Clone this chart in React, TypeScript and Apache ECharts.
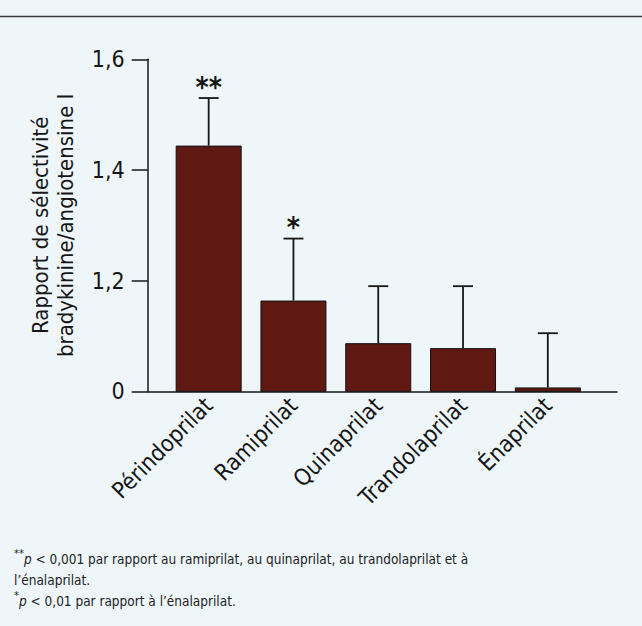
import React, { useEffect, useRef } from 'react';
import * as echarts from 'echarts';

const categories = ['Périndoprilat', 'Ramiprilat', 'Quinaprilat', 'Trandolaprilat', 'Énaprilat'];
const ratios = [1.444, 1.164, 1.087, 1.078, 1.007];
const errorTops = [1.53, 1.276, 1.19, 1.19, 1.105];
const significance = ['**', '*', '', '', ''];
const yTickValues = [1.0, 1.2, 1.4, 1.6];
const yTickLabels = ['0', '1,2', '1,4', '1,6'];
const yAxisTitle = ['Rapport de sélectivité', 'bradykinine/angiotensine I'];
const footnoteLines = [
  '{s|**}{i|p} < 0,001 par rapport au ramiprilat, au quinaprilat, au trandolaprilat et à',
  'l’énalaprilat.',
  '{s|*}{i|p} < 0,01 par rapport à l’énalaprilat.',
];

const FONT = '"Liberation Sans Narrow", "DejaVu Sans Condensed", "Roboto Condensed", Roboto, Arial, sans-serif';
const INK = '#161616';

export default function App() {
  const ref = useRef<HTMLDivElement>(null);
  useEffect(() => {
    if (!ref.current) return;
    const chart = echarts.init(ref.current, undefined, { renderer: 'svg' });
    const option: any = {
      animation: false,
      backgroundColor: '#EEF6FA',
      grid: { left: 147.7, right: 25, top: 59.3, bottom: 234.7, containLabel: false },
      xAxis: {
        type: 'value',
        min: 0.281,
        max: 5.816,
        minInterval: 1,
        maxInterval: 1,
        splitLine: { show: false },
        axisTick: { show: false },
        axisLine: { show: true, lineStyle: { color: INK, width: 1.5 } },
        axisLabel: {
          rotate: 45,
          margin: 10,
          fontSize: 23,
          fontFamily: FONT,
          color: INK,
          showMinLabel: false,
          showMaxLabel: false,
          formatter: (v: number) => (Number.isInteger(v) && v >= 1 && v <= categories.length ? categories[v - 1] : ''),
        },
      },
      yAxis: {
        type: 'value',
        min: 1.0,
        max: 1.6,
        interval: 0.2,
        splitLine: { show: false },
        axisLine: { show: true, lineStyle: { color: INK, width: 1.5 } },
        axisTick: { show: true, length: 16, lineStyle: { color: INK, width: 1.5 } },
        axisLabel: {
          margin: 23,
          fontSize: 23,
          fontFamily: FONT,
          color: INK,
          formatter: (v: number) => {
            const idx = yTickValues.findIndex((t) => Math.abs(t - v) < 1e-6);
            return idx >= 0 ? yTickLabels[idx] : '';
          },
        },
        name: yAxisTitle.join('\n'),
        nameLocation: 'middle',
        nameGap: 70,
        nameTextStyle: { fontSize: 22, lineHeight: 25, fontFamily: FONT, color: INK, align: 'center' },
      },
      series: [
        {
          type: 'bar',
          data: ratios.map((v, i) => [i + 1, v]),
          barWidth: 66,
          clip: true,
          itemStyle: { color: '#601912', borderColor: '#111', borderWidth: 1 },
        },
        {
          type: 'custom',
          data: ratios.map((v, i) => [i + 1, v, errorTops[i]]),
          encode: { x: 0, y: [1, 2] },
          z: 5,
          renderItem: (params: any, api: any) => {
            const x = api.value(0);
            const p0 = api.coord([x, api.value(1)]);
            const p1 = api.coord([x, api.value(2)]);
            const half = 10;
            const children: any[] = [
              { type: 'line', shape: { x1: p0[0], y1: p0[1], x2: p1[0], y2: p1[1] }, style: { stroke: INK, lineWidth: 1.8 } },
              { type: 'line', shape: { x1: p1[0] - half, y1: p1[1], x2: p1[0] + half, y2: p1[1] }, style: { stroke: INK, lineWidth: 1.8 } },
            ];
            const sig = significance[params.dataIndex];
            if (sig) {
              children.push({
                type: 'text',
                x: p1[0],
                y: p1[1] - 11,
                style: { text: sig, fontSize: 28, fontWeight: 'bold', fontFamily: FONT, fill: INK, align: 'center', verticalAlign: 'middle' },
              });
            }
            return { type: 'group', children };
          },
        },
      ],
      graphic: [
        { type: 'line', shape: { x1: 0, y1: 16.5, x2: 642, y2: 16.5 }, style: { stroke: '#3a3a3a', lineWidth: 1.5 } },
        {
          type: 'text',
          left: 14,
          top: 548,
          style: {
            text: footnoteLines.join('\n'),
            fontSize: 13.5,
            lineHeight: 21,
            fontFamily: FONT,
            fill: '#222',
            rich: {
              i: { fontStyle: 'italic', fontSize: 13.5, lineHeight: 21, fontFamily: FONT, fill: '#222' },
              s: { fontSize: 11, lineHeight: 21, fontFamily: FONT, fill: '#222', verticalAlign: 'top' },
            },
          },
        },
      ],
    };
    chart.setOption(option);
    return () => chart.dispose();
  }, []);
  return <div ref={ref} style={{ position: 'absolute', left: 0, top: 0, width: 642, height: 626 }} />;
}
